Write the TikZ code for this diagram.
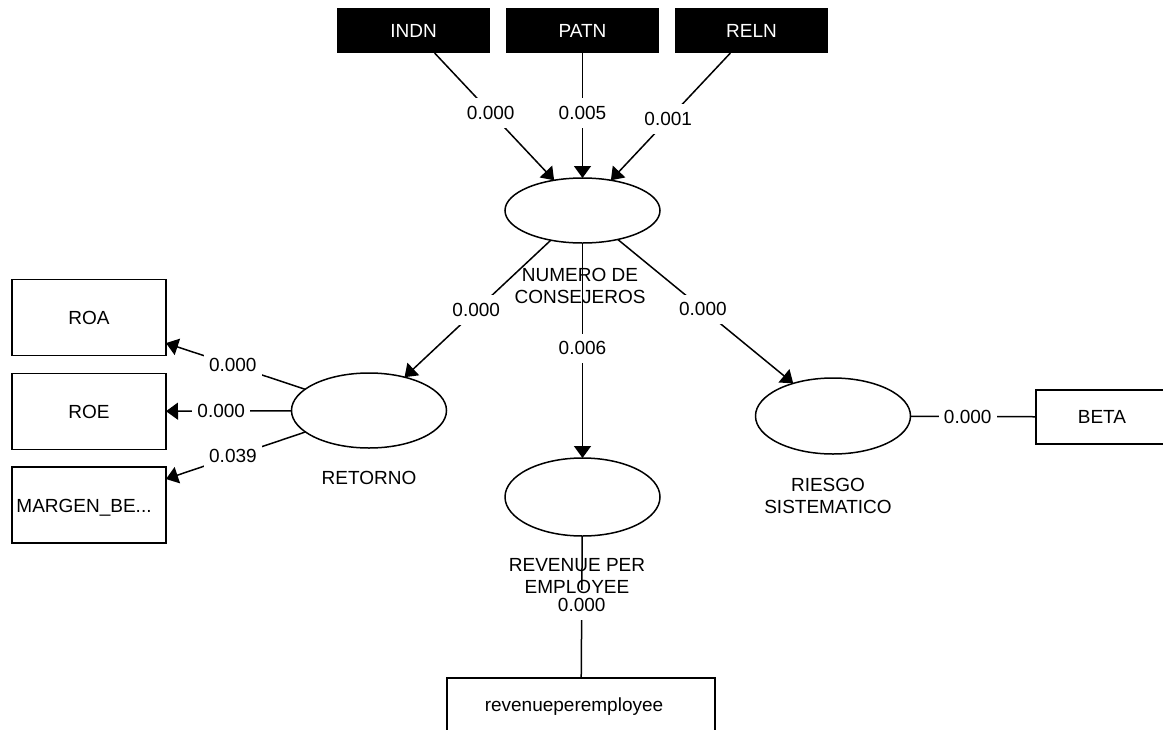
\documentclass[tikz,border=0pt]{standalone}
\usepackage{fontspec}
\setmainfont{Liberation Sans}
\usetikzlibrary{arrows.meta,shapes.geometric}
\tikzset{
  base/.style={font=\fontsize{19}{22}\selectfont},
  blk/.style={base, rectangle, fill=black, text=white, minimum width=153pt, minimum height=45pt, inner sep=0pt, outer sep=0pt},
  obs/.style={base, rectangle, draw, line width=1.5pt, fill=white, minimum width=154pt, minimum height=76pt, inner sep=0pt, outer sep=0pt},
  lat/.style={ellipse, draw, line width=1.5pt, fill=white, minimum width=155pt, inner sep=0pt, outer sep=0pt},
  latname/.style={base, align=center, inner sep=0pt},
  lbl/.style={base, fill=white, inner xsep=5pt, inner ysep=8pt},
  arr/.style={line width=1.5pt, -{Triangle[length=12pt,width=17pt]}},
  lnk/.style={line width=1.5pt}
}
\begin{document}
\begin{tikzpicture}[x=1pt,y=-1pt]
\useasboundingbox (0,0) rectangle (1163,729);
\fill[white] (0,0) rectangle (1163,729);

% indicators of the board construct
\node[blk] (indn) at (413.5,30.5) {INDN};
\node[blk] (patn) at (582.5,30.5) {PATN};
\node[blk] (reln) at (751.5,30.5) {RELN};

% latent variables
\node[lat, minimum height=65pt] (numero) at (582.5,210.5) {};
\node[lat, minimum height=75pt] (retorno) at (369,410.5) {};
\node[lat, minimum height=78pt] (revenue) at (582.5,497) {};
\node[lat, minimum height=76pt] (riesgo) at (833,416) {};

% measured indicators
\node[obs] (roa) at (89,317.5) {ROA};
\node[obs] (roe) at (89,411.5) {ROE};
\node[obs] (margen) at (89,505) {};
\node[base, inner sep=0pt] (margentext) at (84,508) {MARGEN\_BE...};
\node[obs, minimum width=132pt, minimum height=54pt] (beta) at (1102,417) {BETA};
\node[obs, minimum width=268pt, minimum height=62pt] (rpe) at (581,709) {};
\node[base, inner sep=0pt] (rpetext) at (574,707) {revenueperemployee};

% formative paths into NUMERO DE CONSEJEROS
\draw[arr] (indn) -- node[lbl, pos=0.47] {0.000} (numero);
\draw[arr] (patn) -- node[lbl, pos=0.48] {0.005} (numero);
\draw[arr] (reln) -- node[lbl, pos=0.52] {0.001} (numero);

% structural paths
\draw[arr] (numero) -- node[lbl, pos=0.51] {0.000} (retorno);
\draw[arr] (numero) -- node[lbl, pos=0.49] {0.006} (revenue);
\draw[arr] (numero) -- node[lbl, pos=0.485] {0.000} (riesgo);

% reflective paths out of RETORNO
\draw[arr] (retorno) -- node[lbl, pos=0.52] {0.000} (roa);
\draw[arr] (retorno) -- node[lbl, pos=0.56] {0.000} (roe);
\draw[arr] (retorno) -- node[lbl, pos=0.52] {0.039} (margen);

% single indicators
\draw[lnk] (riesgo) -- node[lbl, pos=0.456] {0.000} (beta);
\draw[lnk] (revenue) -- node[lbl, pos=0.486] {0.000} (rpe);

% names of the latent variables, set over the paths
\node[latname] (numeroname) at (580,286) {NUMERO DE\\CONSEJEROS};
\node[latname] (retornoname) at (369,478) {RETORNO};
\node[latname] (riesgoname) at (828,496) {RIESGO\\SISTEMATICO};
\node[latname] (revenuename) at (577,576) {REVENUE PER\\EMPLOYEE};
\end{tikzpicture}
\end{document}
